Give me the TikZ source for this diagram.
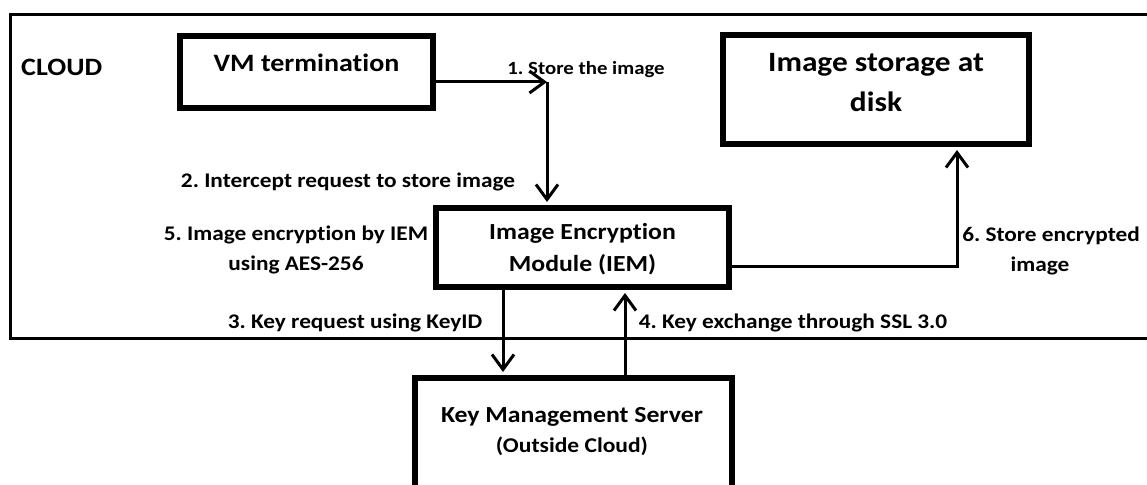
\documentclass[tikz,border=0pt]{standalone}
\usepackage{fontspec}
\setmainfont{Carlito}[FakeStretch=1.12, Ligatures=NoCommon]
\usetikzlibrary{arrows.meta}
\newcommand{\fsz}[2]{\fontsize{#1}{#2}\selectfont\bfseries}
\frenchspacing
\begin{document}
\begin{tikzpicture}[x=1pt,y=-1pt,
  box/.style={draw, line width=6pt, rectangle, inner sep=0pt},
  boxtext/.style={font=\fsz{23}{32}, align=center, inner sep=0pt},
  lbl/.style={font=\fsz{20.8}{30}, align=center, inner sep=0pt},
  frame/.style={line width=3pt},
  flow/.style={line width=3pt, -{Straight Barb[length=15pt,width=22pt,line width=3pt]}},
]
\useasboundingbox (0,0) rectangle (1147,484);
\clip (0,0) rectangle (1147,484);

% cloud boundary (open on the right)
\draw[frame] (1160,14.5) -- (10.5,14.5) -- (10.5,338) -- (1160,338);
\node[boxtext, font=\fsz{25}{30}, anchor=west] (cloud) at (21,67) {CLOUD};

% boxes
\node[box, minimum width=253pt, minimum height=72pt] (vm) at (306.5,72) {};
\node[box, minimum width=306pt, minimum height=109pt] (store) at (876,89.5) {};
\node[box, minimum width=293pt, minimum height=79pt] (iem) at (582.5,247.5) {};
\node[box, minimum width=317pt, minimum height=170pt] (kms) at (573.5,463) {};

% box texts
\node[boxtext, font=\fsz{25}{30}] (vmt) at (306.5,63) {VM termination};
\node[boxtext, font=\fsz{28}{40}] (storet) at (876,83) {Image storage at\\disk};
\node[boxtext] (iemt) at (582.5,249) {Image Encryption\\Module (IEM)};
\node[boxtext, font=\fsz{23}{30}] (kmst) at (572,432) {Key Management Server\\{\fsz{21}{30}(Outside Cloud)}};

% bend points and arrow columns
\coordinate (c1) at (547,82);
\coordinate (c6) at (957,266);
\coordinate (x3) at (503,323);
\coordinate (x4) at (625,323);

% connectors
\draw[flow] (vm.east |- c1) -- (c1);
\draw[flow, shorten >=3pt] (c1) -- (iem.north -| c1);
\draw[flow, shorten >=3pt] (iem.east |- c6) -- (c6) -- (store.south -| c6);
\draw[flow, shorten >=3pt] (iem.south -| x3) -- (kms.north -| x3);
\draw[flow, shorten >=3pt] (kms.north -| x4) -- (iem.south -| x4);

% step labels
\node[lbl, font=\fsz{18.6}{30}] (l1) at (586,70) {1. Store the image};
\node[lbl] (l2) at (348,182) {2. Intercept request to store image};
\node[lbl] (l3) at (355,323) {3. Key request using KeyID};
\node[lbl] (l4) at (793,323) {4. Key exchange through SSL 3.0};
\node[lbl] (l5) at (296,250) {5. Image encryption by IEM\\using AES-256};
\node[lbl] (l6) at (1051,251) {6. Store encrypted\\image\kern22pt};
\end{tikzpicture}
\end{document}
